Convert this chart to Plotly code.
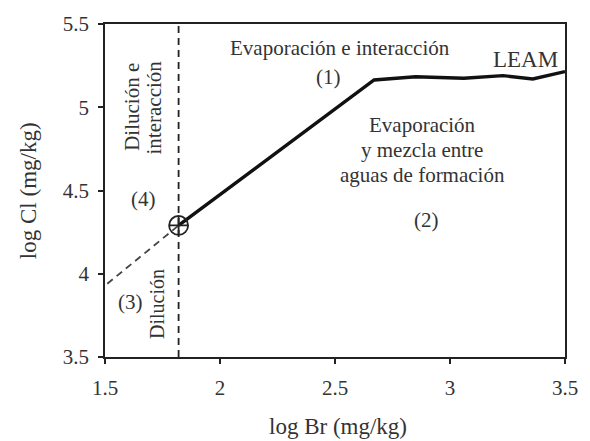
import plotly.graph_objects as go

# Mixing point (dilution/evaporation branch point)
mix_br = [1.82]
mix_cl = [4.29]

# Dilution trend (3)
dil_br = [1.51, 1.82]
dil_cl = [3.94, 4.29]

# Seawater evaporation trend (LEAM)
leam_br = [1.82, 2.67, 2.85, 3.06, 3.23, 3.36, 3.50]
leam_cl = [4.29, 5.164, 5.183, 5.174, 5.19, 5.17, 5.214]

# Vertical boundary between dilution fields
bound_br = [1.82, 1.82]
bound_cl = [3.5, 5.5]

x_ticks = [1.5, 2, 2.5, 3, 3.5]
y_ticks = [3.5, 4, 4.5, 5, 5.5]

ink = "#222222"
txt = "#333333"
font = "Times New Roman, Liberation Serif, serif"

fig = go.Figure()
fig.add_trace(go.Scatter(x=bound_br, y=bound_cl, mode="lines",
                         line=dict(color=ink, width=1.8, dash="7px,5px"),
                         showlegend=False, hoverinfo="skip"))
fig.add_trace(go.Scatter(x=dil_br, y=dil_cl, mode="lines",
                         line=dict(color="#444444", width=1.8, dash="7px,5px"),
                         showlegend=False, hoverinfo="skip"))
fig.add_trace(go.Scatter(x=leam_br, y=leam_cl, mode="lines",
                         line=dict(color="#111111", width=3.4),
                         showlegend=False, hoverinfo="skip"))
fig.add_trace(go.Scatter(x=mix_br, y=mix_cl, mode="markers",
                         marker=dict(symbol="circle-cross-open", size=19,
                                     color=ink, line=dict(width=1.8, color=ink)),
                         showlegend=False, hoverinfo="skip"))

def note(text, x, y, size=21, angle=0, ref="data"):
    xr, yr = ("x", "y") if ref == "data" else ("paper", "paper")
    fig.add_annotation(text=text, x=x, y=y, xref=xr, yref=yr,
                       xanchor="center", yanchor="middle",
                       showarrow=False, textangle=angle,
                       font=dict(family=font, size=size, color=txt))

# Field labels
note("Evaporación e interacción", 2.52, 5.356)
note("(1)", 2.47, 5.18)
note("LEAM", 3.33, 5.285, size=23)
note("Evaporación", 2.88, 4.893)
note("y mezcla entre", 2.88, 4.743)
note("aguas de formación", 2.88, 4.593)
note("(2)", 2.897, 4.323)
note("(4)", 1.667, 4.449)
note("(3)", 1.611, 3.83)
note("Dilución e", 1.62, 5.0, angle=-90)
note("interacción", 1.714, 5.0, angle=-90)
note("Dilución", 1.726, 3.818, size=20, angle=-90)

# Axis titles
note("log Br (mg/kg)", 0.507, -0.21, size=23, ref="paper")
note("log Cl (mg/kg)", -0.166, 0.50, size=23, angle=-90, ref="paper")

axis_common = dict(showline=True, linewidth=1.8, linecolor=ink, mirror=True,
                   ticks="outside", ticklen=5, tickwidth=1.5, tickcolor=ink,
                   showgrid=False, zeroline=False,
                   tickfont=dict(family=font, size=21, color=txt))

fig.update_xaxes(range=[1.5, 3.5], tickvals=x_ticks,
                 ticktext=[str(v) for v in x_ticks],
                 ticklabelstandoff=6, **axis_common)
fig.update_yaxes(range=[3.5, 5.5], tickvals=y_ticks,
                 ticktext=[str(v) for v in y_ticks],
                 ticklabelstandoff=5, **axis_common)

fig.update_layout(width=590, height=441,
                  margin=dict(l=105, r=16, t=24, b=84),
                  font=dict(family=font),
                  paper_bgcolor="white", plot_bgcolor="white")

fig.write_html("out.html")
